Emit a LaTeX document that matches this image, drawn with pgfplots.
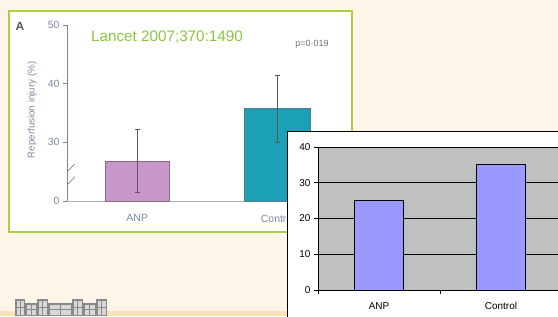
\documentclass[border=0pt]{standalone}
\usepackage{fontspec}
\setmainfont{Liberation Sans}
\usepackage{pgfplots}
\pgfplotsset{compat=1.18}
\definecolor{bg}{HTML}{FDF6E8}
\definecolor{band}{HTML}{F8E2B8}
\definecolor{lime}{HTML}{A8D13C}
\definecolor{lancet}{HTML}{8CC63F}
\definecolor{scantext}{HTML}{7D8CA3}
\definecolor{scanaxis}{HTML}{8C7C84}
\definecolor{anpfill}{HTML}{C996C9}
\definecolor{anpdraw}{HTML}{8A6A80}
\definecolor{ctlfill}{HTML}{1CA0B8}
\definecolor{ctldraw}{HTML}{5A7A80}
\definecolor{errc}{HTML}{5A5A5A}
\definecolor{plotbg}{HTML}{C0C0C0}
\definecolor{barblue}{HTML}{9999FF}
\definecolor{bldg}{HTML}{8A8A8A}
\definecolor{win}{HTML}{D8D8D8}
\begin{document}
\begin{tikzpicture}[x=1bp,y=1bp]
\useasboundingbox (0,0) rectangle (558,316);
\clip (0,0) rectangle (558,316);
\fill[bg] (0,0) rectangle (558,316);
\fill[band] (0,0) rectangle (558,5.5);
% building logo
\foreach \a/\b/\t in {15/25/17, 25/37/13, 37/48/17, 48/72/13, 72/83/17, 83/96/13, 96/107/17}{
  \fill[bldg] (\a,0) rectangle (\b,\t);
  \fill[win] (\a+1.5,1) rectangle (\b-1.5,\t-2);
  \draw[bldg, line width=0.6bp] (\a+1.5,{\t/2}) -- (\b-1.5,{\t/2});
  \draw[bldg, line width=0.6bp] ({(\a+\b)/2},1) -- ({(\a+\b)/2},\t-2);
}
% scanned chart frame
\filldraw[fill=white, draw=lime, line width=1.6bp] (9,84) rectangle (352,305);
\node[text=black!65, font=\bfseries\fontsize{12}{14}\selectfont] at (20,290) {A};
\node[text=lancet, font=\fontsize{15.3}{17}\selectfont] at (167,279) {Lancet 2007;370:1490};
\node[text=black!55, font=\fontsize{9}{11}\selectfont] at (312,272) {p=0·019};
\node[text=scantext, rotate=90, font=\fontsize{9.8}{11}\selectfont] at (32,206) {Reperfusion injury (\%)};
\begin{axis}[
  at={(67bp,115bp)}, anchor=south west, scale only axis,
  width=281bp, height=176bp,
  xmin=-0.5, xmax=1.5, ymin=20, ymax=50,
  axis x line*=bottom, axis y line*=left,
  axis line style={draw=scanaxis, line width=0.7bp},
  x axis line style={draw=black!30},
  xtick={0,1}, xticklabels={ANP,Control},
  ytick={20,30,40,50}, yticklabels={0,30,40,50},
  tick align=outside, major tick length=4bp,
  x tick style={draw=none},
  y tick style={draw=scanaxis, line width=0.7bp},
  /pgf/number format/assume math mode=true,
  tick label style={text=scantext, font=\fontsize{10.5}{12}\selectfont},
  xticklabel style={yshift=-6bp},
  error bars/error bar style={draw=errc, line width=0.6bp},
  error bars/error mark options={draw=errc, rotate=90, mark size=2.5bp, line width=0.6bp},
]
\addplot[ybar, bar width=0.46, bar shift=0pt, fill=anpfill, draw=anpdraw, line width=0.7bp,
  error bars/.cd, y dir=both, y explicit]
  coordinates {(0,26.7) += (0,5.6) -= (0,5.2)};
\addplot[ybar, bar width=0.47, bar shift=0pt, fill=ctlfill, draw=ctldraw, line width=0.7bp,
  error bars/.cd, y dir=both, y explicit]
  coordinates {(1,35.8) += (0,5.7) -= (0,5.8)};
\draw[scanaxis, line width=0.7bp] (axis cs:-0.565,23.4) -- (axis cs:-0.445,26.3);
\draw[scanaxis, line width=0.7bp] (axis cs:-0.565,21.0) -- (axis cs:-0.445,24.1);
\end{axis}
% overlay chart
\filldraw[fill=white, draw=black, line width=0.8bp] (287,-5) rectangle (575,185);
\begin{axis}[
  at={(318bp,26bp)}, anchor=south west, scale only axis,
  width=244bp, height=143bp,
  xmin=-0.5, xmax=1.5, ymin=0, ymax=40,
  axis background/.style={fill=plotbg},
  axis x line*=bottom, axis y line*=left,
  axis line style={draw=black, line width=0.8bp},
  xtick={-0.5,0.5,1.5}, x tick label as interval, xticklabels={ANP,Control},
  ytick={0,10,20,30,40},
  ymajorgrids, grid style={draw=black, line width=0.7bp},
  tick align=outside, major tick length=4bp,
  tick style={draw=black, line width=0.7bp},
  /pgf/number format/assume math mode=true,
  tick label style={font=\fontsize{10}{12}\selectfont},
  xticklabel style={yshift=-5bp},
]
\addplot[ybar, bar width=0.4, bar shift=0pt, fill=barblue, draw=black, line width=0.8bp]
  coordinates {(0,25) (1,35)};
\end{axis}
\end{tikzpicture}
\end{document}
